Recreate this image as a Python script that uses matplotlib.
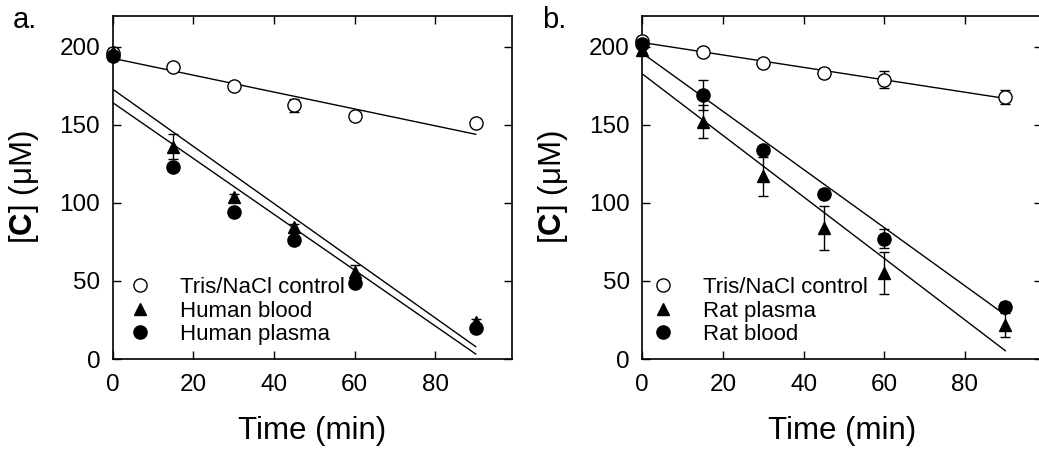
import numpy as np
import matplotlib
matplotlib.use("Agg")
import matplotlib.pyplot as plt

plt.rcParams['font.family'] = ['Liberation Sans', 'DejaVu Sans']
plt.rcParams['mathtext.fontset'] = 'custom'
plt.rcParams['mathtext.rm'] = 'Liberation Sans'
plt.rcParams['mathtext.bf'] = 'Liberation Sans:bold'

time = [0, 15, 30, 45, 60, 90]
fit_t = [0, 90]

# panel a: human
a_ctrl = [196, 187, 175, 162.5, 155.5, 151]
a_ctrl_err = [3, 1, 1, 4, 1, 1]
a_blood = [197, 136, 104, 84.5, 56, 24]
a_blood_err = [2, 8, 2, 2, 4, 1.5]
a_plasma = [194, 123, 94, 76, 49, 20]
a_plasma_err = [2, 2, 2, 2, 2, 2]
a_fit_b0 = [192.7, 172.9, 164.3]
a_fit_b1 = [-0.541, -1.833, -1.79]

# panel b: rat
b_ctrl = [204, 197, 190, 183.5, 179, 168]
b_ctrl_err = [1, 1, 1, 3, 5.5, 4.5]
b_plasma = [198, 152, 117, 84, 55, 22]
b_plasma_err = [2, 10.5, 12.3, 14.2, 13.5, 7.7]
b_blood = [202, 169, 134, 106, 77, 33.5]
b_blood_err = [2, 9.6, 2, 2, 6, 3]
b_fit_b0 = [202.8, 196, 182.7]
b_fit_b1 = [-0.398, -1.864, -1.971]

fig = plt.figure(figsize=(10.39, 4.58), dpi=100)
W, H = 1039, 458


def draw_panel(ax, series, labels, b0, b1, leg_x):
    ft = np.array(fit_t)
    for c, m in zip(b0, b1):
        ax.plot(ft, c + m * ft, color='k', lw=1.0, zorder=2)
    styles = [dict(marker='o', mfc='white', mec='k', ms=9.5),
              dict(marker='^', mfc='k', mec='k', ms=9),
              dict(marker='o', mfc='k', mec='k', ms=9.5)]
    for (vals, errs), lab, st in zip(series, labels, styles):
        ax.errorbar(time, vals, yerr=errs, fmt='none', ecolor='k',
                    elinewidth=1.0, capsize=3.8, capthick=1.0, zorder=3,
                    clip_on=False)
        ax.plot(time, vals, linestyle='none', label=lab, zorder=4,
                clip_on=False, mew=1.0, **st)
    ax.set_xlim(0, 99)
    ax.set_ylim(0, 220)
    ax.set_xticks([0, 20, 40, 60, 80])
    ax.set_yticks([0, 50, 100, 150, 200])
    ax.tick_params(direction='in', top=True, right=True, length=6,
                   width=1.0, labelsize=17.5)
    ax.tick_params(axis='x', pad=11)
    ax.tick_params(axis='y', pad=9)
    for s in ax.spines.values():
        s.set_linewidth(1.2)
    ax.set_xlabel('Time (min)', fontsize=22.5)
    ax.set_ylabel(r'[$\mathbf{C}$] (μM)', fontsize=22.5)
    ax.xaxis.set_label_coords(0.5, -0.165)
    ax.yaxis.set_label_coords(-0.18, 0.5)
    ax.legend(loc='lower left', bbox_to_anchor=(leg_x, 0.04),
              frameon=False, fontsize=16, handlelength=1.0,
              handletextpad=1.3, labelspacing=0.12, borderpad=0,
              borderaxespad=0)


ax_a = fig.add_axes([112.7 / W, 99 / H, 399.3 / W, 343.3 / H])
ax_b = fig.add_axes([642.3 / W, 99 / H, 399.3 / W, 343.3 / H])

draw_panel(ax_a,
           [(a_ctrl, a_ctrl_err), (a_blood, a_blood_err), (a_plasma, a_plasma_err)],
           ['Tris/NaCl control', 'Human blood', 'Human plasma'],
           a_fit_b0, a_fit_b1, 0.041)
draw_panel(ax_b,
           [(b_ctrl, b_ctrl_err), (b_plasma, b_plasma_err), (b_blood, b_blood_err)],
           ['Tris/NaCl control', 'Rat plasma', 'Rat blood'],
           b_fit_b0, b_fit_b1, 0.024)

fig.text(13 / W, 1 - 28.3 / H, 'a.', fontsize=21, va='baseline')
fig.text(542 / W, 1 - 28.3 / H, 'b.', fontsize=21, va='baseline')

fig.savefig('out.png', dpi=100)
